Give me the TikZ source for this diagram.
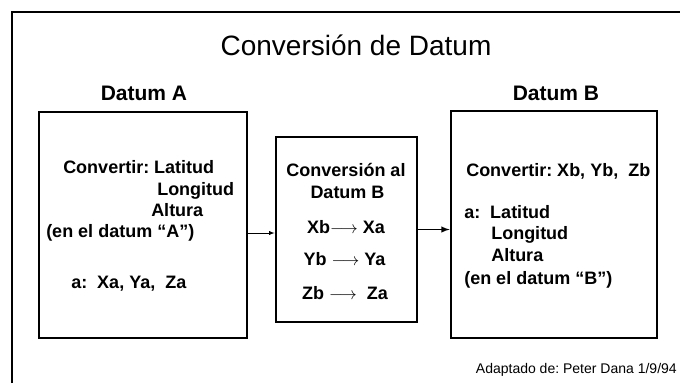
\documentclass[tikz,border=0pt]{standalone}
\usepackage{fontspec}
\setmainfont{Liberation Sans}
\usetikzlibrary{arrows}
\frenchspacing

\begin{document}
\begin{tikzpicture}[x=1pt,y=-1pt,line width=2.5pt,
    datumbox/.style={draw,rectangle,inner sep=0pt,line width=2.8pt},
    linea/.style={anchor=base west,inner sep=0pt,font=\bfseries\fontsize{18}{21}\selectfont},
    lineac/.style={anchor=base,inner sep=0pt,font=\bfseries\fontsize{18}{21}\selectfont}]
      \useasboundingbox (0,0) rectangle (680,383);
      \draw (12,383) -- (12,12) -- (680,12);

      \node [anchor=base,inner sep=0pt,font=\fontsize{28}{32}\selectfont] (titulo) at (356,55) {Conversión de Datum};
      \node [anchor=base,inner sep=0pt,font=\bfseries\fontsize{21}{24}\selectfont] (nomA) at (144,100) {Datum A};
      \node [anchor=base,inner sep=0pt,font=\bfseries\fontsize{21}{24}\selectfont] (nomB) at (556,100) {Datum B};

      \node [datumbox,minimum width=208pt,minimum height=226pt] (boxA) at (143,225) {};
      \node [datumbox,minimum width=141pt,minimum height=185pt] (boxM) at (346.5,229.5) {};
      \node [datumbox,minimum width=206pt,minimum height=227pt] (boxB) at (554,224.5) {};

      \node [linea] (a1) at (62,173) {Convertir: Latitud};
      \node [linea] (a2) at (156,195) {Longitud};
      \node [linea] (a3) at (150,216) {Altura};
      \node [linea] (a4) at (45,237) {(en el datum “A”)};
      \node [linea] (a5) at (70,288) {a:\ \ Xa, Ya,\ \ Za};

      \node [lineac] (m1) at (346,176.5) {Conversión al};
      \node [lineac] (m2) at (347.5,198.5) {Datum B};
      \node [lineac] (m3) at (346,233.5) {Xb$\longrightarrow$ Xa};
      \node [lineac] (m4) at (344.5,265.5) {Yb $\longrightarrow$ Ya};
      \node [lineac] (m5) at (345,299.5) {Zb $\longrightarrow$\ \ Za};

      \node [linea] (b1) at (465,176) {Convertir: Xb, Yb,\ \ Zb};
      \node [linea] (b2) at (463,218) {a:\ \ Latitud};
      \node [linea] (b3) at (490,239) {Longitud};
      \node [linea] (b4) at (490,261) {Altura};
      \node [linea] (b5) at (463,284) {(en el datum “B”)};

      \draw [-latex,line width=0.9pt] ([yshift=-3.5pt]boxM.west -| boxA.east) -- ([yshift=-3.5pt]boxM.west);
      \draw [-latex,line width=1.8pt] (boxM.east) -- (boxM.east -| boxB.west);

      \node [anchor=base east,inner sep=0pt,font=\fontsize{14}{16}\selectfont] (fuente) at (678,373) {Adaptado de: Peter Dana 1/9/94};
    \end{tikzpicture}
\end{document}
